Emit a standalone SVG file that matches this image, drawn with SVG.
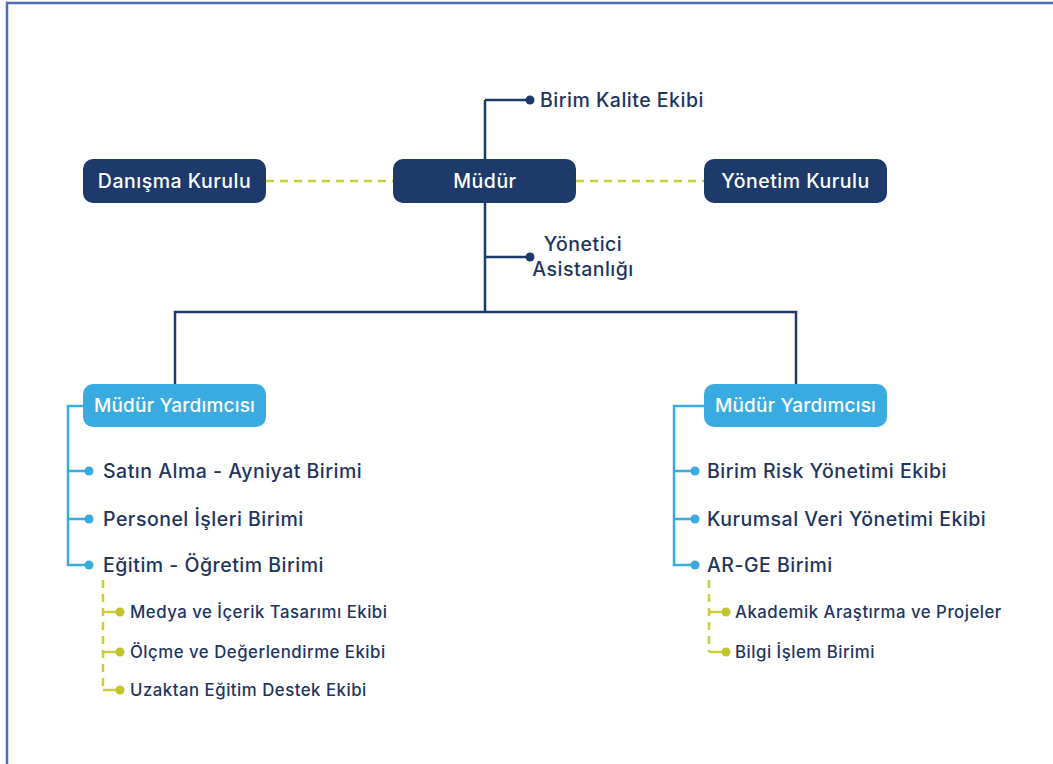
<svg xmlns="http://www.w3.org/2000/svg" width="1053" height="764" viewBox="0 0 1053 764">
<style>
.frame{fill:none;stroke:#4a6fb5;stroke-width:2.5}
.dark{fill:#1d3a6b}
.light{fill:#3aabe0}
.bt{font-family:Inter,"Liberation Sans",sans-serif;font-size:19.5px;font-weight:500;letter-spacing:0.5px;fill:#fff;text-anchor:middle;dominant-baseline:central}
.bt2{font-family:Inter,"Liberation Sans",sans-serif;font-size:19px;font-weight:500;letter-spacing:0.2px;fill:#fff;text-anchor:middle;dominant-baseline:central}
.t1{font-family:Inter,"Liberation Sans",sans-serif;font-size:19.5px;font-weight:500;letter-spacing:0.5px;fill:#1e3560}
.t2{font-family:Inter,"Liberation Sans",sans-serif;font-size:16.8px;font-weight:500;letter-spacing:0.5px;fill:#1e3560}
.nl{fill:none;stroke:#1d3a6b;stroke-width:2.5}
.bl{fill:none;stroke:#3aabe0;stroke-width:2.5}
.yd{fill:none;stroke:#c9cf3c;stroke-width:2.5;stroke-dasharray:8 6}
.ys{fill:none;stroke:#c9cf3c;stroke-width:2.5}
.dn{fill:#1d3a6b}
.db{fill:#3aabe0}
.dy{fill:#c2c22a}
</style>
<rect width="1053" height="764" fill="#fff"/>
<path class="frame" d="M7 764 V3 H1053"/>
<g id="connectors">
<path class="yd" d="M266 181 H393 M576 181 H704"/>
<path class="nl" d="M485 100 V312 M485 100 H530 M485 257 H530 M175 385 V312 H796 V385"/>
<circle class="dn" cx="530" cy="100" r="4.5"/>
<circle class="dn" cx="530" cy="257" r="4.5"/>
<path class="bl" d="M83 406 H68 V565 H89 M68 471 H89 M68 519 H89"/>
<circle class="db" cx="89" cy="471" r="4.5"/>
<circle class="db" cx="89" cy="519" r="4.5"/>
<circle class="db" cx="89" cy="565" r="4.5"/>
<path class="bl" d="M704 406 H674 V565 H695 M674 471 H695 M674 519 H695"/>
<circle class="db" cx="695" cy="471" r="4.5"/>
<circle class="db" cx="695" cy="519" r="4.5"/>
<circle class="db" cx="695" cy="565" r="4.5"/>
<path class="yd" d="M103 580 V690"/>
<path class="ys" d="M103 612 H120 M103 652 H120 M103 690 H120"/>
<circle class="dy" cx="120" cy="612" r="4.5"/>
<circle class="dy" cx="120" cy="652" r="4.5"/>
<circle class="dy" cx="120" cy="690" r="4.5"/>
<path class="yd" d="M709 580 V652"/>
<path class="ys" d="M709 612 H726 M709 652 H726"/>
<circle class="dy" cx="726" cy="612" r="4.5"/>
<circle class="dy" cx="726" cy="652" r="4.5"/>
</g>
<g id="mudur"><rect class="dark" x="393" y="159" width="183" height="44" rx="10"/><text class="bt" x="485" y="181">Müdür</text></g>
<g id="danisma"><rect class="dark" x="83" y="159" width="183" height="44" rx="10"/><text class="bt" x="174.5" y="181">Danışma Kurulu</text></g>
<g id="yonetim"><rect class="dark" x="704" y="159" width="183" height="44" rx="10"/><text class="bt" x="795.5" y="181">Yönetim Kurulu</text></g>
<g id="kalite"><text class="t1" x="540" y="107">Birim Kalite Ekibi</text></g>
<g id="asistan"><text class="t1" x="583" y="251" text-anchor="middle">Yönetici</text><text class="t1" x="583" y="276" text-anchor="middle">Asistanlığı</text></g>
<g id="yardimci1"><rect class="light" x="83" y="384" width="183" height="43" rx="10"/><text class="bt2" x="174.5" y="405.5">Müdür Yardımcısı</text></g>
<g id="yardimci2"><rect class="light" x="704" y="384" width="183" height="43" rx="10"/><text class="bt2" x="795.5" y="405.5">Müdür Yardımcısı</text></g>
<g id="satin"><text class="t1" x="103" y="478">Satın Alma - Ayniyat Birimi</text></g>
<g id="personel"><text class="t1" x="103" y="526">Personel İşleri Birimi</text></g>
<g id="egitim"><text class="t1" x="103" y="572">Eğitim - Öğretim Birimi</text></g>
<g id="medya"><text class="t2" x="130" y="618">Medya ve İçerik Tasarımı Ekibi</text></g>
<g id="olcme"><text class="t2" x="130" y="658">Ölçme ve Değerlendirme Ekibi</text></g>
<g id="uzaktan"><text class="t2" x="130" y="696">Uzaktan Eğitim Destek Ekibi</text></g>
<g id="risk"><text class="t1" x="707" y="478">Birim Risk Yönetimi Ekibi</text></g>
<g id="veri"><text class="t1" x="707" y="526">Kurumsal Veri Yönetimi Ekibi</text></g>
<g id="arge"><text class="t1" x="707" y="572">AR-GE Birimi</text></g>
<g id="akademik"><text class="t2" x="735" y="618">Akademik Araştırma ve Projeler</text></g>
<g id="bilgi"><text class="t2" x="735" y="658">Bilgi İşlem Birimi</text></g>
</svg>
